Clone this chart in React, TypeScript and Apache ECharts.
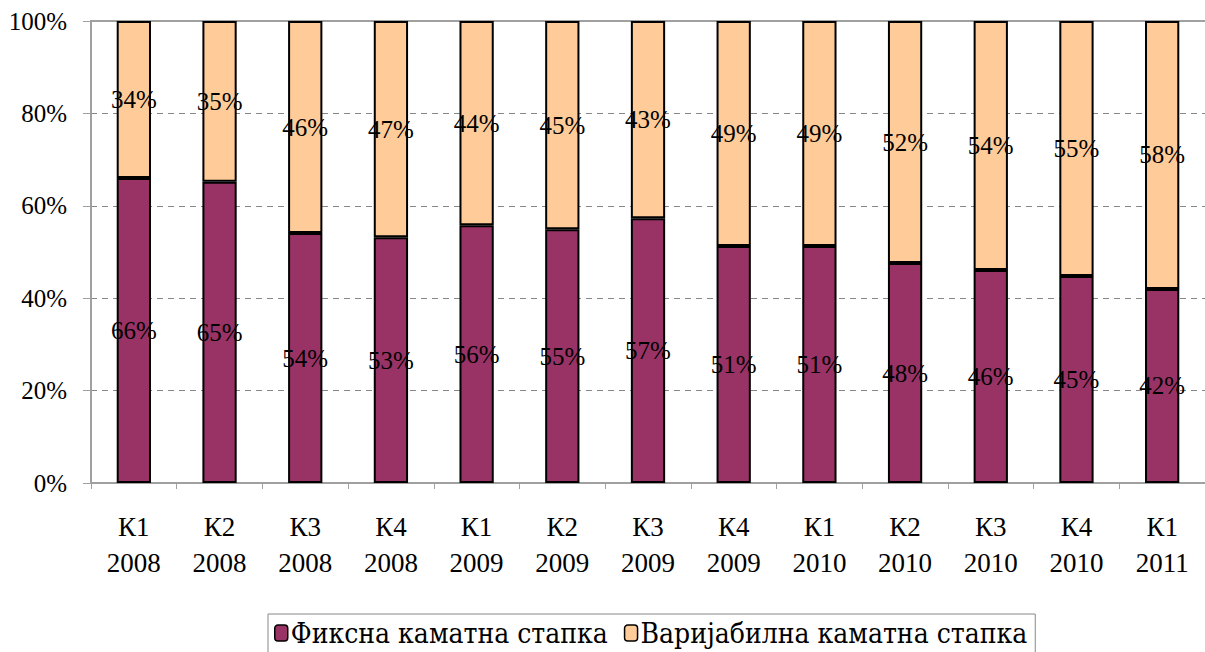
import React, { useEffect, useRef } from "react";
import * as echarts from "echarts";

const categories = ["К1\n2008", "К2\n2008", "К3\n2008", "К4\n2008", "К1\n2009", "К2\n2009", "К3\n2009", "К4\n2009", "К1\n2010", "К2\n2010", "К3\n2010", "К4\n2010", "К1\n2011"];
const fixedRate = [66.0, 65.2, 54.1, 53.2, 55.8, 54.9, 57.3, 51.3, 51.3, 47.6, 46.1, 44.8, 42.0];
const variableRate = [34.0, 34.8, 45.9, 46.8, 44.2, 45.1, 42.7, 48.7, 48.7, 52.4, 53.9, 55.2, 58.0];
const seriesNames = ["Фиксна каматна стапка", "Варијабилна каматна стапка"];

const SERIF = "Liberation Serif";

export default function App() {
  const ref = useRef<HTMLDivElement>(null);
  useEffect(() => {
    document.body.style.margin = "0";
    const chart = echarts.init(ref.current!, null, { renderer: "svg" });
    const label = {
      show: true,
      position: "inside",
      color: "#000",
      fontFamily: SERIF,
      fontSize: 25,
      formatter: (p: any) => Math.round(p.value) + "%",
    };
    chart.setOption({
      animation: false,
      backgroundColor: "#fff",
      grid: { left: 91, right: -6, top: 21, bottom: 169 },
      legend: {
        left: 268,
        top: 614,
        itemWidth: 13,
        itemHeight: 16,
        itemGap: 16,
        padding: [5, 8, 12, 6],
        borderColor: "#888",
        borderWidth: 1,
        textStyle: { fontFamily: "DejaVu Serif Condensed", fontSize: 28, color: "#000", padding: [0, 0, 0, -2] },
        data: seriesNames.map((n) => ({ name: n, itemStyle: { borderColor: "#000", borderWidth: 1.5 } })),
      },
      xAxis: [
        {
          type: "category",
          data: categories,
          axisLine: { lineStyle: { color: "#a0a0a0", width: 2 } },
          axisTick: { show: true, length: 6, lineStyle: { color: "#a0a0a0" } },
          axisLabel: { fontFamily: SERIF, fontSize: 27, color: "#000", lineHeight: 36, margin: 26 },
        },
        {
          type: "category",
          position: "top",
          data: categories,
          axisLine: { show: true, lineStyle: { color: "#a0a0a0", width: 2 } },
          axisTick: { show: false },
          axisLabel: { show: false },
        },
      ],
      yAxis: {
        type: "value",
        min: 0,
        max: 100,
        interval: 20,
        axisLine: { show: true, lineStyle: { color: "#a0a0a0", width: 2 } },
        axisTick: { show: true, length: 8, lineStyle: { color: "#a0a0a0" } },
        axisLabel: { fontFamily: SERIF, fontSize: 25, color: "#000", margin: 24, formatter: "{value}%" },
        splitLine: { lineStyle: { color: "#888", type: [6, 5], width: 1 } },
      },
      series: [
        {
          name: seriesNames[0],
          type: "bar",
          stack: "total",
          data: fixedRate,
          barWidth: "40%",
          itemStyle: { color: "#993366", borderColor: "#000", borderWidth: 2 },
          label,
        },
        {
          name: seriesNames[1],
          type: "bar",
          stack: "total",
          data: variableRate,
          barWidth: "40%",
          itemStyle: { color: "#FFCC99", borderColor: "#000", borderWidth: 2 },
          label,
        },
      ],
    });
    return () => chart.dispose();
  }, []);
  return <div ref={ref} style={{ width: 1205, height: 652 }} />;
}
